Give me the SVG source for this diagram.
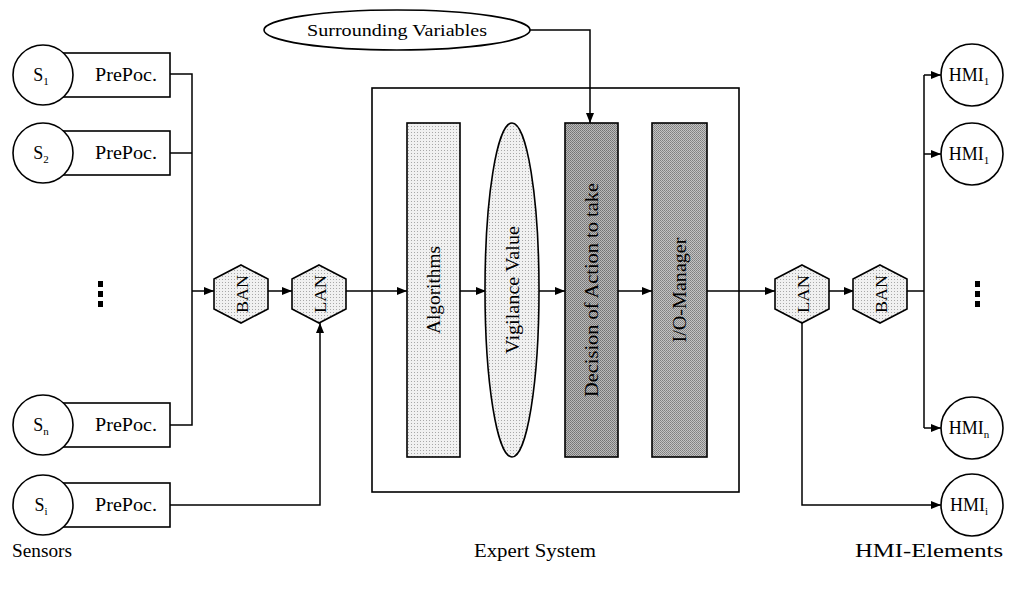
<svg xmlns="http://www.w3.org/2000/svg" width="1013" height="600" viewBox="0 0 1013 600">
<style>
text{font-family:"Liberation Serif","DejaVu Serif",serif;fill:#000}
.lbl{font-size:18px;text-anchor:middle}
.sub{font-size:11px}
.sh{stroke:#000;stroke-width:1.6}
.wire{fill:none;stroke:#000;stroke-width:1.5}
.rot{font-size:18px;text-anchor:middle;dominant-baseline:central}
.hx{font-size:17px;text-anchor:middle;dominant-baseline:central}
</style>
<defs>
<pattern id="lite" width="3" height="3" patternUnits="userSpaceOnUse"><rect width="3" height="3" fill="#f1f1f1"/><rect width="1" height="1" fill="#a8a8a8"/></pattern>
<pattern id="dark" width="2" height="2" patternUnits="userSpaceOnUse"><rect width="2" height="2" fill="#bababa"/><rect width="1" height="1" fill="#747474"/><rect x="1" y="1" width="1" height="1" fill="#808080"/></pattern>
<pattern id="mid" width="2" height="2" patternUnits="userSpaceOnUse"><rect width="2" height="2" fill="#c4c4c4"/><rect width="1" height="1" fill="#808080"/><rect x="1" y="1" width="1" height="1" fill="#8c8c8c"/></pattern>
<marker id="ah" viewBox="0 0 10 8" refX="10" refY="4" markerWidth="10" markerHeight="8" markerUnits="userSpaceOnUse" orient="auto"><path d="M0,0L10,4L0,8z" fill="#000"/></marker>
</defs>
<rect width="1013" height="600" fill="#fff"/>

<g id="connectors" class="wire">
<path d="M170,74H192V425H170"/>
<path d="M170,153H192"/>
<path d="M192,291H214" marker-end="url(#ah)"/>
<path d="M268,291H292" marker-end="url(#ah)"/>
<path d="M170,505H320V323" marker-end="url(#ah)"/>
<path d="M346,291H407" marker-end="url(#ah)"/>
<path d="M460,291H486" marker-end="url(#ah)"/>
<path d="M539,291H565" marker-end="url(#ah)"/>
<path d="M618,291H652" marker-end="url(#ah)"/>
<path d="M707,291H775" marker-end="url(#ah)"/>
<path d="M829,291H854" marker-end="url(#ah)"/>
<path d="M907,291H924"/>
<path d="M924,75V428"/>
<path d="M924,75H941" marker-end="url(#ah)"/>
<path d="M924,154H941" marker-end="url(#ah)"/>
<path d="M924,428H941" marker-end="url(#ah)"/>
<path d="M802,322V505H941" marker-end="url(#ah)"/>
<path d="M530,30H590V123" marker-end="url(#ah)"/>
</g>

<g id="sensor-1"><rect x="55" y="53" width="115" height="44" fill="#fff" class="sh"/><circle cx="43" cy="75" r="30" fill="#fff" class="sh"/><text x="41" y="81" class="lbl">S<tspan class="sub" dy="4">1</tspan></text><text x="126" y="81" class="lbl" textLength="62" lengthAdjust="spacingAndGlyphs">PrePoc.</text></g>
<g id="sensor-2"><rect x="55" y="131" width="115" height="44" fill="#fff" class="sh"/><circle cx="43" cy="153" r="30" fill="#fff" class="sh"/><text x="41" y="159" class="lbl">S<tspan class="sub" dy="4">2</tspan></text><text x="126" y="159" class="lbl" textLength="62" lengthAdjust="spacingAndGlyphs">PrePoc.</text></g>
<g id="sensor-n"><rect x="55" y="403" width="115" height="44" fill="#fff" class="sh"/><circle cx="43" cy="425" r="30" fill="#fff" class="sh"/><text x="41" y="431" class="lbl">S<tspan class="sub" dy="4">n</tspan></text><text x="126" y="431" class="lbl" textLength="62" lengthAdjust="spacingAndGlyphs">PrePoc.</text></g>
<g id="sensor-i"><rect x="55" y="483" width="115" height="44" fill="#fff" class="sh"/><circle cx="43" cy="505" r="30" fill="#fff" class="sh"/><text x="41" y="511" class="lbl">S<tspan class="sub" dy="4">i</tspan></text><text x="126" y="511" class="lbl" textLength="62" lengthAdjust="spacingAndGlyphs">PrePoc.</text></g>
<g id="sensor-dots" fill="#000"><rect x="98" y="281" width="5" height="6"/><rect x="98" y="291" width="5" height="6"/><rect x="98" y="301" width="5" height="6"/></g>

<g id="ban-left"><polygon points="241,265 268,279 268,309 241,323 214,309 214,279" fill="url(#lite)" class="sh"/><text transform="rotate(-90 242 294)" x="242" y="294" class="hx" textLength="38" lengthAdjust="spacingAndGlyphs">BAN</text></g>
<g id="lan-left"><polygon points="319,265 346,279 346,309 319,323 292,309 292,279" fill="url(#lite)" class="sh"/><text transform="rotate(-90 320 294)" x="320" y="294" class="hx" textLength="38" lengthAdjust="spacingAndGlyphs">LAN</text></g>

<g id="surrounding-variables"><ellipse cx="397" cy="30" rx="133" ry="20" fill="#fff" class="sh"/><text x="397" y="36" font-size="17" text-anchor="middle" textLength="180" lengthAdjust="spacingAndGlyphs">Surrounding Variables</text></g>

<g id="expert-system"><rect x="372" y="88" width="367" height="404" fill="none" class="sh"/></g>
<g id="algorithms"><rect x="407" y="123" width="53" height="334" fill="url(#lite)" class="sh"/><text transform="rotate(-90 434 290)" x="434" y="290" class="rot" textLength="88" lengthAdjust="spacingAndGlyphs">Algorithms</text></g>
<g id="vigilance-value"><ellipse cx="512" cy="290" rx="27" ry="167" fill="url(#lite)" class="sh"/><text transform="rotate(-90 513 290)" x="513" y="290" class="rot" textLength="128" lengthAdjust="spacingAndGlyphs">Vigilance Value</text></g>
<g id="decision"><rect x="565" y="123" width="53" height="334" fill="url(#dark)" class="sh"/><text transform="rotate(-90 592 290)" x="592" y="290" class="rot" textLength="214" lengthAdjust="spacingAndGlyphs">Decision of Action to take</text></g>
<g id="io-manager"><rect x="652" y="123" width="55" height="334" fill="url(#mid)" class="sh"/><text transform="rotate(-90 680 290)" x="680" y="290" class="rot" textLength="105" lengthAdjust="spacingAndGlyphs">I/O-Manager</text></g>

<g id="lan-right"><polygon points="802,265 829,279 829,309 802,323 775,309 775,279" fill="url(#lite)" class="sh"/><text transform="rotate(-90 803 294)" x="803" y="294" class="hx" textLength="38" lengthAdjust="spacingAndGlyphs">LAN</text></g>
<g id="ban-right"><polygon points="880,265 907,279 907,309 880,323 853,309 853,279" fill="url(#lite)" class="sh"/><text transform="rotate(-90 881 294)" x="881" y="294" class="hx" textLength="38" lengthAdjust="spacingAndGlyphs">BAN</text></g>

<g id="hmi-1a"><circle cx="972" cy="75" r="31" fill="#fff" class="sh"/><text x="969" y="81" class="lbl">HMI<tspan class="sub" dy="4">1</tspan></text></g>
<g id="hmi-1b"><circle cx="972" cy="154" r="31" fill="#fff" class="sh"/><text x="969" y="160" class="lbl">HMI<tspan class="sub" dy="4">1</tspan></text></g>
<g id="hmi-n"><circle cx="972" cy="428" r="31" fill="#fff" class="sh"/><text x="969" y="434" class="lbl">HMI<tspan class="sub" dy="4">n</tspan></text></g>
<g id="hmi-i"><circle cx="972" cy="505" r="31" fill="#fff" class="sh"/><text x="969" y="511" class="lbl">HMI<tspan class="sub" dy="4">i</tspan></text></g>
<g id="hmi-dots" fill="#000"><rect x="975" y="281" width="5" height="6"/><rect x="975" y="291" width="5" height="6"/><rect x="975" y="301" width="5" height="6"/></g>

<g id="captions"><text x="42" y="557" class="lbl" textLength="60" lengthAdjust="spacingAndGlyphs">Sensors</text><text x="535" y="557" class="lbl" textLength="122" lengthAdjust="spacingAndGlyphs">Expert System</text><text x="929" y="557" class="lbl" textLength="148" lengthAdjust="spacingAndGlyphs">HMI-Elements</text></g>
</svg>
